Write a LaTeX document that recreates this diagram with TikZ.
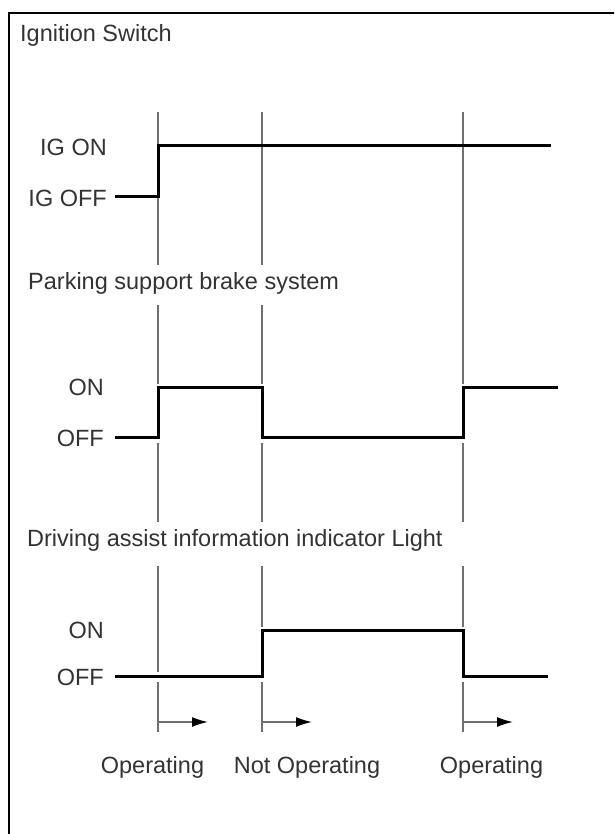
\documentclass[tikz,border=0pt]{standalone}
\usepackage{fontspec}
\setmainfont{Liberation Sans}
\usepackage{tikz}
\usetikzlibrary{calc,arrows.meta}

\definecolor{txtgray}{HTML}{333333}
\definecolor{guidegray}{HTML}{707070}

\tikzset{
  lbl/.style={inner sep=0pt, text=txtgray, font=\fontsize{23.5}{26}\selectfont},
  guide/.style={draw=guidegray, line width=1.6pt},
  sig/.style={draw=black, line width=3pt, line join=miter},
  frame/.style={draw=black, line width=2pt}
}

\begin{document}
\begin{tikzpicture}[x=1pt, y=-1pt]
      \clip (0,0) rectangle (614,834);
      \useasboundingbox (0,0) rectangle (614,834);
      \draw[frame] (9,850) -- (9,13) -- (630,13);

      % titles
      \node[lbl, anchor=west] (ig) at (20,35) {Ignition Switch};
      \node[lbl, anchor=west] (psb) at (28,283) {Parking support brake system};
      \node[lbl, anchor=west] (dai) at (27,540) {Driving assist information indicator Light};

      % levels
      \node[lbl, anchor=east] (igon) at (107,147) {IG ON};
      \node[lbl, anchor=east] (igoff) at (107,198) {IG OFF};
      \node[lbl, anchor=east] (psbon) at (104,387) {ON};
      \node[lbl, anchor=east] (psboff) at (104,438) {OFF};
      \node[lbl, anchor=east] (daion) at (104,630) {ON};
      \node[lbl, anchor=east] (daioff) at (104,677) {OFF};

      % guide lines
      \draw[guide] (158,112) -- (158,146);
      \draw[guide] (158,197) -- (158,265);
      \draw[guide] (158,305) -- (158,384);
      \draw[guide] (158,443) -- (158,522);
      \draw[guide] (158,566) -- (158,672);
      \draw[guide] (262,112) -- (262,265);
      \draw[guide] (262,305) -- (262,384);
      \draw[guide] (262,443) -- (262,522);
      \draw[guide] (262,566) -- (262,627);
      \draw[guide] (463,112) -- (463,384);
      \draw[guide] (463,443) -- (463,522);
      \draw[guide] (463,566) -- (463,627);
      \foreach \x in {158,262,463}
        \draw[guide] (\x,682) -- (\x,732);

      % signals
      \draw[sig] (115,197) -- (158,197) -- (158,146) -- (551,146);
      \draw[sig] (115,437) -- (158,437) -- (158,387) -- (262,387)
                 -- (262,437) -- (463,437) -- (463,387) -- (558,387);
      \draw[sig] (115,676) -- (262,676) -- (262,630) -- (463,630)
                 -- (463,676) -- (548,676);

      % arrows
      \foreach \x in {158,262,463}
        \draw[guide, -{Latex[length=16pt, width=10pt, color=black]}] (\x,722) -- (\x+50,722);

      \node[lbl] (op1) at (152.5,767) {Operating};
      \node[lbl] (nop) at (307,767) {Not Operating};
      \node[lbl] (op2) at (491.5,767) {Operating};
    \end{tikzpicture}
\end{document}
